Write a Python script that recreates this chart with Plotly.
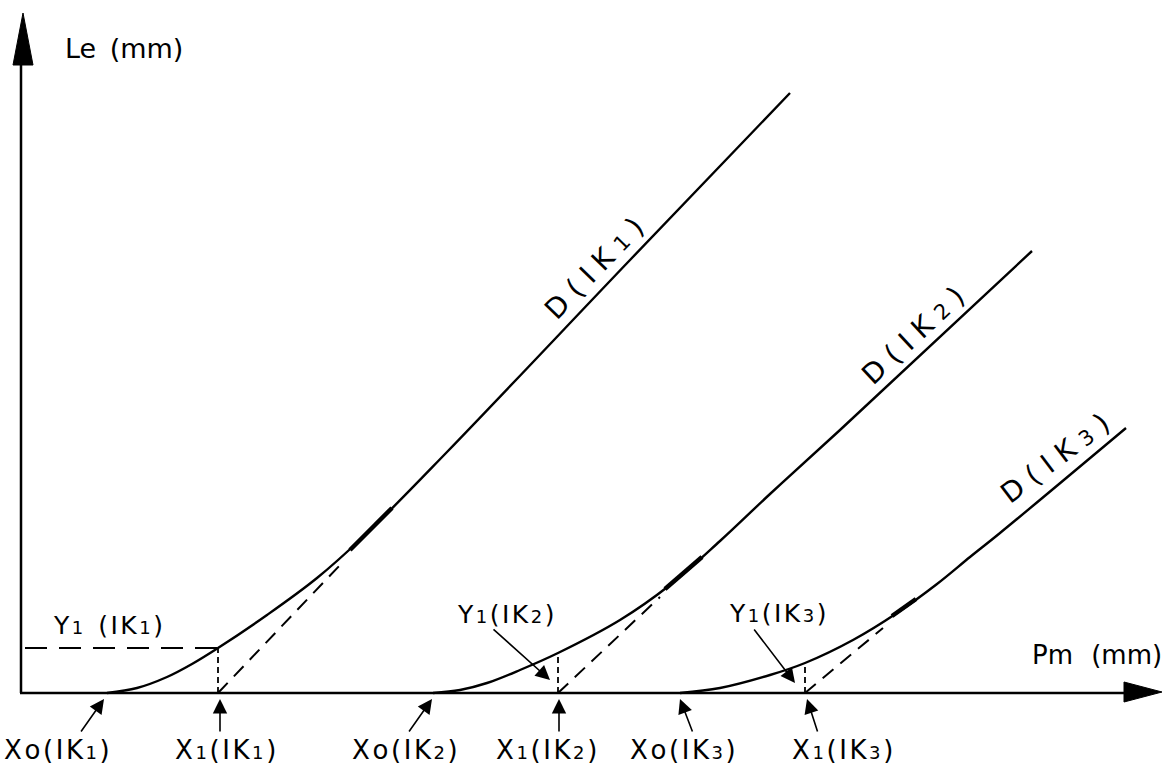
import plotly.graph_objects as go

# ---- data (drawing units: Pm (mm) horizontal, Le (mm) vertical) ----
c1_x = [87, 117, 147, 172, 198, 247, 297, 343, 427, 610, 770]
c1_y = [0, 5, 16, 29, 45, 78, 115, 156, 241, 433, 600]
c2_x = [413, 440, 467, 500, 538, 600, 650, 700, 750, 820, 1012]
c2_y = [0, 3, 10, 23, 40, 73, 108, 152, 199, 263, 442]
c3_x = [660, 700, 750, 785, 833, 877, 917, 950, 980, 1106]
c3_y = [0, 5, 18, 30, 53, 80, 109, 136, 160, 265]

x0_vals = [87, 413, 660]          # Xo(IK)
x1_vals = [198, 538, 785]         # X1(IK)
y1_vals = [45, 40, 30]            # Y1(IK)
tan_end_x = [322, 640, 863]       # end of dashed tangents
tan_end_y = [130, 96, 65]
thick_x = [[330, 372], [645, 682], [872, 896]]
thick_y = [[143, 185], [104, 136], [77, 94]]

y1ik1_dash_x = [5, 198]

yaxis_top = 640
xaxis_end = 1108
yhead_x = [3, -7, 13, 3]
yhead_y = [680, 628, 628, 680]
xhead_x = [1142, 1104, 1104, 1142]
xhead_y = [1, 11, -9, 1]

HS = "\u200a"   # hair space (letter spacing of the lettering)


def s(d, size=18):
    return f'<span style="font-size:{size}px">{d}</span>'


def spaced(parts):
    return HS.join(parts)


bottom_labels = [
    spaced(["X", "o", "(", "I", "K", s(1), ")"]),
    spaced(["X", s(1), "(", "I", "K", s(1), ")"]),
    spaced(["X", "o", "(", "I", "K", s(2), ")"]),
    spaced(["X", s(1), "(", "I", "K", s(2), ")"]),
    spaced(["X", "o", "(", "I", "K", s(3), ")"]),
    spaced(["X", s(1), "(", "I", "K", s(3), ")"]),
]
bottom_label_x = [37, 205, 385, 526, 663, 822]
bottom_label_y = -57
arrow_head_x = [84, 200, 412, 539, 660, 787]
arrow_tail_x = [60, 200, 388, 539, 673, 798]
arrow_head_y = -6
arrow_tail_y = -40

y1_labels = [
    spaced(["Y", s(1), "\u2002(", "I", "K", s(1), ")"]),
    spaced(["Y", s(1), "(", "I", "K", s(2), ")"]),
    spaced(["Y", s(1), "(", "I", "K", s(3), ")"]),
]
y1_label_x = [88, 485, 757]
y1_label_y = [68, 79, 80]
y1_arrow_head = [None, (530, 13), (775, 10)]
y1_arrow_tail = [None, (472, 65), (733, 65)]

d_labels = [f"D ( I K {s(1, 21)} )", f"D ( I K {s(2, 21)} )", f"D ( I K {s(3, 21)} )"]
d_label_x = [574, 893, 1035]
d_label_y = [425, 358, 235]
d_label_angle = [-46, -43, -37]

FONT = "DejaVu Sans"
BLACK = "#000000"

fig = go.Figure()

# axes
fig.add_trace(go.Scatter(x=[1, 1], y=[0, yaxis_top], mode="lines",
                         line=dict(color=BLACK, width=2.5)))
fig.add_trace(go.Scatter(x=[0, xaxis_end], y=[0, 0], mode="lines",
                         line=dict(color=BLACK, width=2.5)))
fig.add_trace(go.Scatter(x=yhead_x, y=yhead_y, mode="lines", fill="toself",
                         fillcolor=BLACK, line=dict(color=BLACK, width=1)))
fig.add_trace(go.Scatter(x=xhead_x, y=xhead_y, mode="lines", fill="toself",
                         fillcolor=BLACK, line=dict(color=BLACK, width=1)))

# curves
for cx, cy in [(c1_x, c1_y), (c2_x, c2_y), (c3_x, c3_y)]:
    fig.add_trace(go.Scatter(x=cx, y=cy, mode="lines",
                             line=dict(color=BLACK, width=2.4, shape="spline", smoothing=1.0)))

# dashed tangents, vertical dashes, thick tangent marks
for i in range(3):
    fig.add_trace(go.Scatter(x=[x1_vals[i], tan_end_x[i]], y=[0, tan_end_y[i]], mode="lines",
                             line=dict(color=BLACK, width=2, dash="14px,9px")))
    fig.add_trace(go.Scatter(x=[x1_vals[i], x1_vals[i]], y=[0, y1_vals[i]], mode="lines",
                             line=dict(color=BLACK, width=1.8, dash="6px,4px")))
    fig.add_trace(go.Scatter(x=thick_x[i], y=thick_y[i], mode="lines",
                             line=dict(color=BLACK, width=4.5)))

# Y1(IK1) horizontal dash
fig.add_trace(go.Scatter(x=y1ik1_dash_x, y=[y1_vals[0], y1_vals[0]], mode="lines",
                         line=dict(color=BLACK, width=2.2, dash="22px,12px")))

ann = []
ann.append(dict(x=104, y=645, text="Le\u2002(mm)", showarrow=False,
                font=dict(family=FONT, size=27, color=BLACK)))
ann.append(dict(x=1077, y=38, text="Pm\u2002\u2009(mm)", showarrow=False,
                font=dict(family=FONT, size=26, color=BLACK)))

for t, x in zip(bottom_labels, bottom_label_x):
    ann.append(dict(x=x, y=bottom_label_y, text=t, showarrow=False,
                    font=dict(family=FONT, size=26, color=BLACK)))
for hx, tx in zip(arrow_head_x, arrow_tail_x):
    ann.append(dict(x=hx, y=arrow_head_y, ax=tx, ay=arrow_tail_y, axref="x", ayref="y",
                    xref="x", yref="y", text="", showarrow=True, arrowhead=2,
                    arrowsize=1.8, arrowwidth=1.6, arrowcolor=BLACK, standoff=0))

for i in range(3):
    ann.append(dict(x=y1_label_x[i], y=y1_label_y[i], text=y1_labels[i], showarrow=False,
                    font=dict(family=FONT, size=25, color=BLACK)))
    if y1_arrow_head[i] is not None:
        hx, hy = y1_arrow_head[i]
        tx, ty = y1_arrow_tail[i]
        ann.append(dict(x=hx, y=hy, ax=tx, ay=ty, axref="x", ayref="y",
                        xref="x", yref="y", text="", showarrow=True, arrowhead=2,
                        arrowsize=1.8, arrowwidth=1.6, arrowcolor=BLACK, standoff=0))
    ann.append(dict(x=d_label_x[i], y=d_label_y[i], text=d_labels[i], showarrow=False,
                    textangle=d_label_angle[i],
                    font=dict(family=FONT, size=28, color=BLACK)))

fig.update_layout(
    width=1163, height=764, autosize=False,
    margin=dict(l=0, r=0, t=0, b=0),
    paper_bgcolor="white", plot_bgcolor="white",
    showlegend=False,
    xaxis=dict(range=[-20, 1143], visible=False, fixedrange=True),
    yaxis=dict(range=[-71, 693], visible=False, fixedrange=True),
    annotations=ann,
)

fig.write_html("out.html")
